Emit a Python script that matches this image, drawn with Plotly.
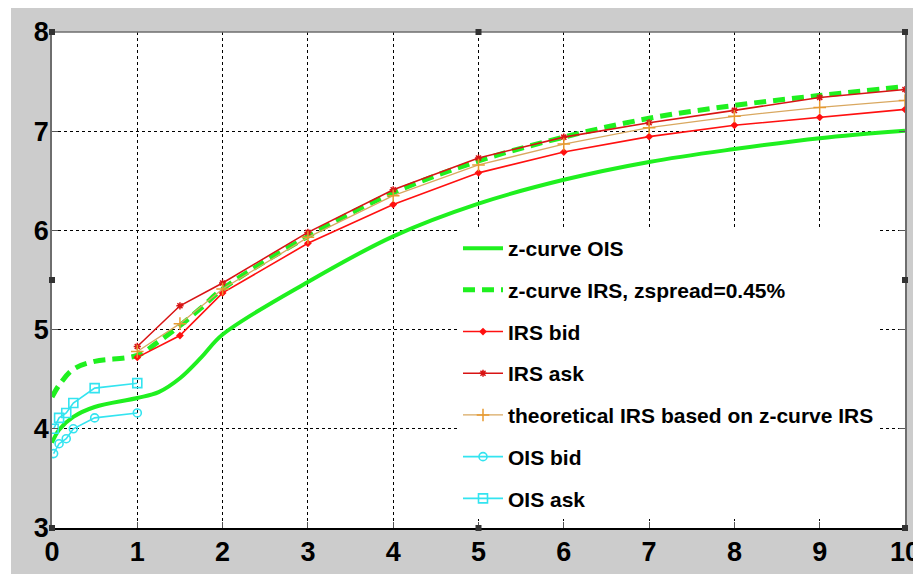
import plotly.graph_objects as go

# ---------------- data ----------------
curve_x = [0, 0.083, 0.25, 0.5, 1, 1.25, 1.5, 1.75, 2, 3, 4, 5, 6, 7, 8, 9, 10]
zcurve_ois = [3.86, 3.99, 4.12, 4.22, 4.31, 4.37, 4.51, 4.72, 4.95, 5.48, 5.94, 6.27, 6.51, 6.69, 6.82, 6.93, 7.005]
zcurve_irs = [4.32, 4.44, 4.60, 4.68, 4.74, 4.88, 5.04, 5.22, 5.41, 5.94, 6.38, 6.70, 6.94, 7.13, 7.26, 7.36, 7.45]

irs_x = [1, 1.5, 2, 3, 4, 5, 6, 7, 8, 9, 10]
irs_bid = [4.72, 4.94, 5.37, 5.87, 6.26, 6.58, 6.79, 6.945, 7.06, 7.14, 7.22]
irs_ask = [4.83, 5.24, 5.47, 5.98, 6.41, 6.73, 6.94, 7.085, 7.21, 7.34, 7.42]
irs_theo = [4.78, 5.06, 5.41, 5.93, 6.35, 6.66, 6.87, 7.035, 7.15, 7.24, 7.31]

ois_x = [0.019, 0.083, 0.167, 0.25, 0.5, 1]
ois_bid = [3.75, 3.85, 3.90, 4.00, 4.11, 4.16]
ois_ask = [4.00, 4.11, 4.16, 4.26, 4.41, 4.46]

x_ticks = list(range(0, 11))
y_ticks = [3, 4, 5, 6, 7, 8]

names = ["z-curve OIS", "z-curve IRS, zspread=0.45%", "IRS bid", "IRS ask",
         "theoretical IRS based on z-curve IRS", "OIS bid", "OIS ask"]

FONT = "Liberation Sans, Arial, sans-serif"
GREEN = "#1ff01f"
RED = "#ff1010"
RED2 = "#d81414"
TAN = "#d9a860"
CYAN = "#33e4f0"

fig = go.Figure()
fig.add_trace(go.Scatter(x=curve_x, y=zcurve_ois, mode="lines", name=names[0],
                         line=dict(color=GREEN, width=4, shape="spline", smoothing=1), legendgroup="a"))
fig.add_trace(go.Scatter(x=curve_x, y=zcurve_irs, mode="lines", name=names[1],
                         line=dict(color=GREEN, width=5, shape="spline", smoothing=1, dash="12px,7px"),
                         legendgroup="b"))
fig.add_trace(go.Scatter(x=irs_x, y=irs_bid, mode="lines+markers", name=names[2],
                         line=dict(color=RED, width=1.6),
                         marker=dict(symbol="diamond", size=6, color=RED), legendgroup="c"))
fig.add_trace(go.Scatter(x=irs_x, y=irs_ask, mode="lines+markers", name=names[3],
                         line=dict(color=RED2, width=1.6),
                         marker=dict(symbol="asterisk-open", size=6, color=RED2, line=dict(width=1.5, color=RED2)),
                         legendgroup="d"))
fig.add_trace(go.Scatter(x=irs_x, y=irs_theo, mode="lines+markers", name=names[4],
                         line=dict(color=TAN, width=1.3),
                         marker=dict(symbol="cross-thin-open", size=9, color="#e89a30", line=dict(width=1.5, color="#e89a30")),
                         legendgroup="e"))
fig.add_trace(go.Scatter(x=ois_x, y=ois_bid, mode="lines+markers", name=names[5],
                         line=dict(color=CYAN, width=1.6),
                         marker=dict(symbol="circle-open", size=8, color=CYAN, line=dict(width=1.6, color=CYAN)),
                         legendgroup="f"))
fig.add_trace(go.Scatter(x=ois_x, y=ois_ask, mode="lines+markers", name=names[6],
                         line=dict(color=CYAN, width=1.6),
                         marker=dict(symbol="square-open", size=9, color=CYAN, line=dict(width=1.6, color=CYAN)),
                         legendgroup="g"))

# The page places the figure 8px from the top-left corner, so the figure is
# 913x566 and its coordinates are the reference's minus 8.
FW, FH = 913, 566
L, R, T, B = 44, 897, 24, 520
W, H = R - L, B - T

def px(x):
    return (x - L) / W

def py(y):
    return (B - y) / H

shapes = []
# thin white strip on the left of the gray figure background
shapes.append(dict(type="rect", xref="paper", yref="paper", x0=px(-5), x1=px(3), y0=py(580), y1=py(-5),
                   fillcolor="white", line=dict(width=0), layer="below"))
# top axis line (gray)
shapes.append(dict(type="line", xref="paper", yref="paper", x0=0, x1=1, y0=1, y1=1,
                   line=dict(color="#6e6e6e", width=1.5)))
# selection handles
for hx, hy in [(L, T), ((L + R) / 2, T), (R, T), (L, (T + B) / 2), (R, (T + B) / 2),
               (L, B), ((L + R) / 2, B), (R, B)]:
    shapes.append(dict(type="rect", xref="paper", yref="paper", x0=px(hx - 3), x1=px(hx + 3),
                       y0=py(hy + 3), y1=py(hy - 3), fillcolor="#333333", line=dict(width=0)))

fig.update_layout(
    width=FW, height=FH,
    margin=dict(l=L, r=FW - R, t=T, b=FH - B, autoexpand=False),
    paper_bgcolor="#cccccc",
    plot_bgcolor="white",
    font=dict(family=FONT, size=21, color="black", weight="bold"),
    showlegend=True,
    legend=dict(x=px(450), y=py(220), xanchor="left", yanchor="top",
                bgcolor="white", borderwidth=0, tracegroupgap=11.4,
                font=dict(family=FONT, size=21, color="black", weight="bold"),
                itemwidth=40),
    shapes=shapes,
)
fig.update_xaxes(range=[0, 10], tickvals=x_ticks, ticktext=[str(v) for v in x_ticks],
                 showgrid=True, gridcolor="black", griddash="dot", gridwidth=1,
                 zeroline=False, showline=True, linecolor="black", linewidth=1.5,
                 ticks="inside", ticklen=6, tickcolor="#555555", mirror=False,
                 tickfont=dict(family=FONT, size=27, color="black", weight="bold"),
                 ticklabelstandoff=-1, automargin=False)
fig.update_yaxes(range=[3, 8], tickvals=y_ticks, ticktext=[str(v) for v in y_ticks],
                 showgrid=True, gridcolor="black", griddash="dot", gridwidth=1,
                 zeroline=False, showline=True, linecolor="#6e6e6e", linewidth=1.5,
                 ticks="inside", ticklen=6, tickcolor="#555555", mirror="ticks",
                 tickfont=dict(family=FONT, size=27, color="black", weight="bold"),
                 ticklabelstandoff=-4, automargin=False)

fig.write_html("out.html")
